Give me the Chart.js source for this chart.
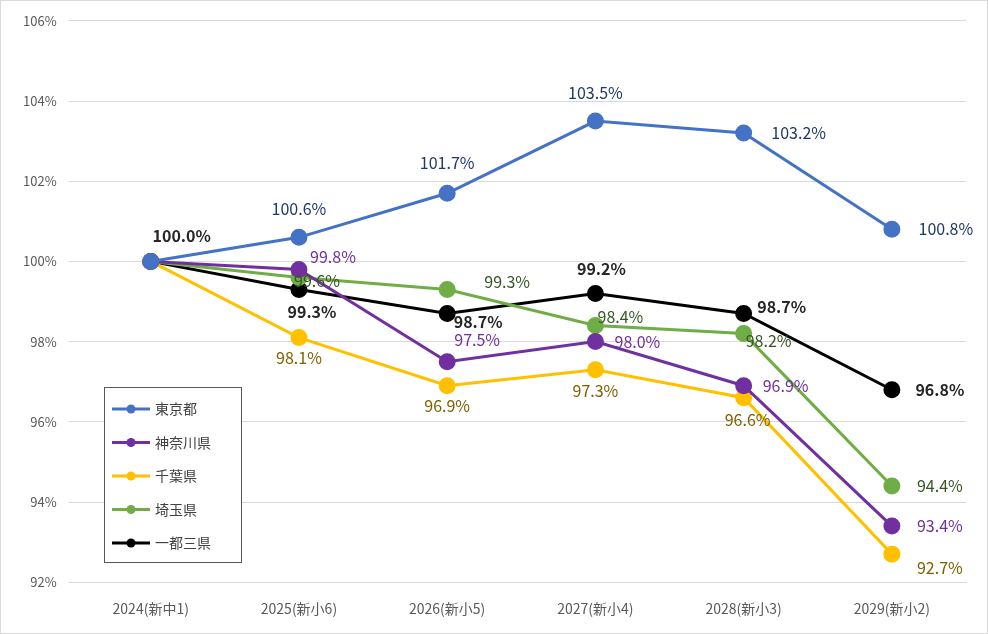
<!DOCTYPE html>
<html>
<head>
<meta charset="utf-8">
<script src="https://cdn.jsdelivr.net/npm/chart.js@4"></script>
<style>
  body { margin: 0; background: #fff; }
  #wrap { width: 986px; height: 632px; border: 1px solid #d9d9d9; }
</style>
</head>
<body>
<div id="wrap"><canvas id="chart" width="986" height="632"></canvas></div>
<script>
const FONT = '"Noto Sans CJK JP", "Noto Sans", sans-serif';
const labels = ['2024(新中1)', '2025(新小6)', '2026(新小5)', '2027(新小4)', '2028(新小3)', '2029(新小2)'];

// label offsets [dx, dy] from each point, null = no label
const series = [
    { name: '東京都', color: '#4472c4', text: '#1f3864', bold: false,
      data: [100.0, 100.6, 101.7, 103.5, 103.2, 100.8],
      off: [null, [0, -28], [0, -30], [0, -28], [55, 0], [54, 0]] },
    { name: '神奈川県', color: '#7030a0', text: '#7030a0', bold: false,
      data: [100.0, 99.8, 97.5, 98.0, 96.9, 93.4],
      off: [null, [34, -12], [30, -22], [42, 0], [42, 0], [48, 0]] },
    { name: '千葉県', color: '#ffc000', text: '#7f6000', bold: false,
      data: [100.0, 98.1, 96.9, 97.3, 96.6, 92.7],
      off: [null, [0, 20], [0, 20], [0, 21], [4, 22], [48, 14]] },
    { name: '埼玉県', color: '#70ad47', text: '#375623', bold: false,
      data: [100.0, 99.6, 99.3, 98.4, 98.2, 94.4],
      off: [null, [18, 3], [60, -8], [25, -9], [25, 7], [48, 0]] },
    { name: '一都三県', color: '#000000', text: '#262626', bold: true,
      data: [100.0, 99.3, 98.7, 99.2, 98.7, 96.8],
      off: [[31, -25], [13, 22], [31, 8], [6, -25], [38, -7], [48, 0]] }
];

const labelPlugin = {
    id: 'pointLabels',
    afterDatasetsDraw(chart) {
        const ctx = chart.ctx;
        ctx.save();
        ctx.textAlign = 'center';
        ctx.textBaseline = 'middle';
        series.forEach((s, di) => {
            const meta = chart.getDatasetMeta(di);
            meta.data.forEach((pt, i) => {
                const o = s.off[i];
                if (!o) return;
                ctx.font = (s.bold ? 'bold ' : '') + '16px ' + FONT;
                ctx.fillStyle = s.text;
                ctx.fillText(s.data[i].toFixed(1) + '%', pt.x + o[0], pt.y + o[1]);
            });
        });
        ctx.restore();
    }
};

const legendPlugin = {
    id: 'boxLegend',
    afterDraw(chart) {
        const ctx = chart.ctx;
        const x = 103, y = 386, w = 137, h = 175;
        ctx.save();
        ctx.fillStyle = '#fff';
        ctx.fillRect(x, y, w, h);
        ctx.strokeStyle = '#595959';
        ctx.lineWidth = 1;
        ctx.strokeRect(x + 0.5, y + 0.5, w, h);
        ctx.font = '14px ' + FONT;
        ctx.textBaseline = 'middle';
        series.forEach((s, i) => {
            const cy = y + 22 + i * 33.5;
            ctx.strokeStyle = s.color;
            ctx.lineWidth = 3;
            ctx.beginPath();
            ctx.moveTo(x + 8, cy);
            ctx.lineTo(x + 46, cy);
            ctx.stroke();
            ctx.fillStyle = s.color;
            ctx.beginPath();
            ctx.arc(x + 27, cy, 4.5, 0, Math.PI * 2);
            ctx.fill();
            ctx.fillStyle = '#404040';
            ctx.fillText(s.name, x + 51, cy);
        });
        ctx.restore();
    }
};

new Chart(document.getElementById('chart').getContext('2d'), {
    type: 'line',
    data: {
        labels: labels,
        datasets: series.map(s => ({
            label: s.name,
            data: s.data,
            borderColor: s.color,
            backgroundColor: s.color,
            borderWidth: 3,
            pointRadius: 7,
            pointHoverRadius: 7,
            tension: 0
        }))
    },
    options: {
        responsive: false,
        animation: false,
        layout: { padding: { top: 12, right: 21, left: 10, bottom: 6 } },
        plugins: { legend: { display: false }, tooltip: { enabled: false } },
        scales: {
            x: {
                offset: true,
                grid: { display: false },
                border: { color: '#d9d9d9' },
                ticks: { color: '#595959', font: { size: 14, family: FONT }, padding: 10 }
            },
            y: {
                min: 92, max: 106,
                ticks: { stepSize: 2, color: '#595959', font: { size: 13, family: FONT },
                         callback: v => v + '%', padding: 12 },
                grid: { color: '#d9d9d9' },
                border: { display: false }
            }
        }
    },
    plugins: [labelPlugin, legendPlugin]
});
</script>
</body>
</html>
